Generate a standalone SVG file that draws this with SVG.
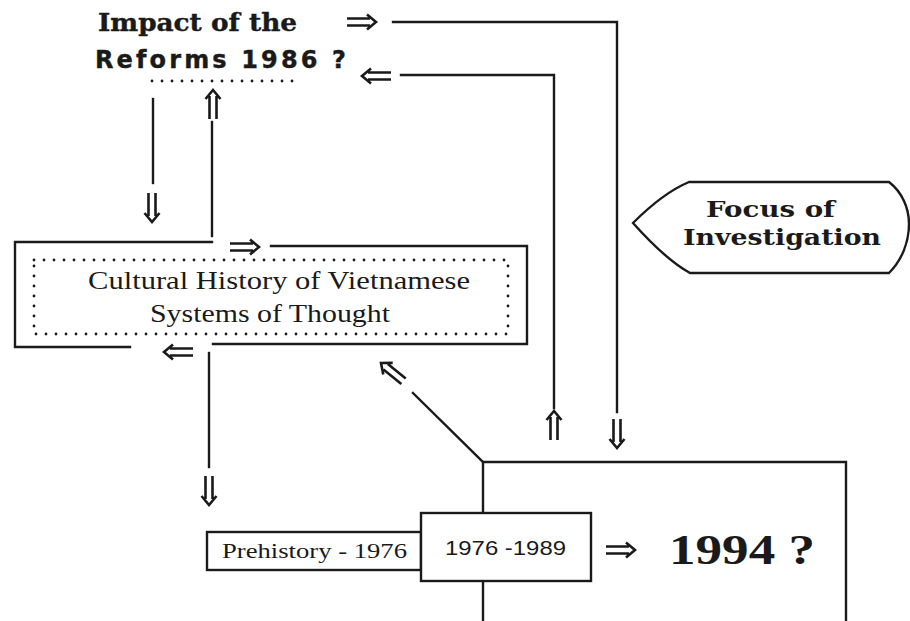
<svg xmlns="http://www.w3.org/2000/svg" xmlns:xlink="http://www.w3.org/1999/xlink" width="910" height="621" viewBox="0 0 910 621">
  <defs>
    <style>
      .ln { fill: none; stroke: #1a1a1a; stroke-width: 2.4; stroke-linecap: square; }
      .dot { fill: none; stroke: #1a1a1a; stroke-width: 2.8; stroke-linecap: round; stroke-dasharray: 0 10; }
      .arr { fill: none; stroke: #1a1a1a; stroke-width: 2.6; stroke-linecap: butt; stroke-linejoin: miter; }
      .box { fill: #fff; stroke: #1a1a1a; stroke-width: 2.4; }
      .t-head { font-family: "DejaVu Serif", "Liberation Serif", serif; font-weight: bold; font-size: 25px; fill: #1a1a1a; stroke: #1a1a1a; stroke-width: 0.4; }
      .t-head2 { font-family: "DejaVu Sans", "Liberation Sans", sans-serif; font-weight: bold; font-size: 24px; fill: #1a1a1a; stroke: #1a1a1a; stroke-width: 0.4; }
      .t-cult { font-family: "Liberation Serif", "DejaVu Serif", serif; font-size: 25px; fill: #1a1a1a; }
      .t-focus { font-family: "DejaVu Serif", "Liberation Serif", serif; font-weight: bold; font-size: 23px; fill: #1a1a1a; }
      .t-small { font-family: "Liberation Serif", "DejaVu Serif", serif; font-size: 21px; fill: #1a1a1a; }
      .t-mid { font-family: "Liberation Sans", "DejaVu Sans", sans-serif; font-size: 20px; fill: #1a1a1a; }
      .t-big { font-family: "Liberation Serif", "DejaVu Serif", serif; font-weight: bold; font-size: 43px; fill: #1a1a1a; }
    </style>
    <!-- double-shafted arrow, tip at the origin, pointing right -->
    <path id="dbl" class="arr" d="M-29,-3.5 H-6 M-29,3.5 H-6 M-9,-7.5 L0,0 L-9,7.5"/>
  </defs>

  <rect width="910" height="621" fill="#fff"/>

  <!-- connectors -->
  <g id="connectors">
    <!-- reforms -> focus -->
    <path class="ln" d="M393,22 H617 V412"/>
    <!-- focus -> reforms -->
    <path class="ln" d="M401,75 H554 V408"/>
    <!-- reforms <-> cultural history -->
    <path class="ln" d="M153,99 V183"/>
    <path class="ln" d="M212,122 V236"/>
    <!-- cultural history -> prehistory -->
    <path class="ln" d="M209,353 V467"/>
    <!-- focus box -> cultural history -->
    <path class="ln" d="M413,393 L483,462"/>

    <use xlink:href="#dbl" transform="translate(376,22)"/>
    <use xlink:href="#dbl" transform="translate(362,76) rotate(180)"/>
    <use xlink:href="#dbl" transform="translate(213,90) rotate(-90)"/>
    <use xlink:href="#dbl" transform="translate(152,222) rotate(90)"/>
    <use xlink:href="#dbl" transform="translate(259,247)"/>
    <use xlink:href="#dbl" transform="translate(164,352) rotate(180)"/>
    <use xlink:href="#dbl" transform="translate(209,505) rotate(90)"/>
    <use xlink:href="#dbl" transform="translate(381,363) rotate(219)"/>
    <use xlink:href="#dbl" transform="translate(554,411) rotate(-90)"/>
    <use xlink:href="#dbl" transform="translate(617,448) rotate(90)"/>
    <use xlink:href="#dbl" transform="translate(635,550)"/>
  </g>

  <!-- heading: impact of the reforms -->
  <g id="reforms">
    <text class="t-head" x="98" y="31" textLength="199" lengthAdjust="spacingAndGlyphs">Impact of the</text>
    <text class="t-head2" x="95" y="68" textLength="251" lengthAdjust="spacing">Reforms 1986 ?</text>
    <path class="dot" d="M152,81 H293"/>
  </g>

  <!-- cultural history frame -->
  <g id="cultural-history">
    <path class="ln" d="M212,242 H15 V347 H130"/>
    <path class="ln" d="M271,246 H527 V344 H213"/>
    <path class="dot" d="M34,260 H508 V334 H34 Z"/>
    <text class="t-cult" x="88" y="289" textLength="382" lengthAdjust="spacingAndGlyphs">Cultural History of Vietnamese</text>
    <text class="t-cult" x="150" y="322" textLength="240" lengthAdjust="spacingAndGlyphs">Systems of Thought</text>
  </g>

  <!-- focus label -->
  <g id="focus">
    <path class="ln" d="M633,223 C652,204 670,190 689,182 H889 C902,192 909,208 909,224 C909,242 902,260 889,273 H690 C670,262 650,242 633,223 Z"/>
    <text class="t-focus" x="706" y="217" textLength="129" lengthAdjust="spacingAndGlyphs">Focus of</text>
    <text class="t-focus" x="683" y="245" textLength="198" lengthAdjust="spacingAndGlyphs">Investigation</text>
  </g>

  <!-- 1994 frame -->
  <g id="target">
    <path class="ln" d="M483,513 V462 H846 V625"/>
    <path class="ln" d="M483,581 V625"/>
    <text class="t-big" x="669" y="564" textLength="146" lengthAdjust="spacingAndGlyphs">1994 ?</text>
  </g>

  <!-- timeline boxes -->
  <g id="prehistory">
    <rect class="box" x="207" y="532" width="214" height="38"/>
    <text class="t-small" x="222" y="558" textLength="185" lengthAdjust="spacingAndGlyphs">Prehistory - 1976</text>
  </g>
  <g id="period">
    <rect class="box" x="421" y="513" width="170" height="68"/>
    <text class="t-mid" x="445" y="555" textLength="121" lengthAdjust="spacingAndGlyphs">1976 -1989</text>
  </g>
</svg>
